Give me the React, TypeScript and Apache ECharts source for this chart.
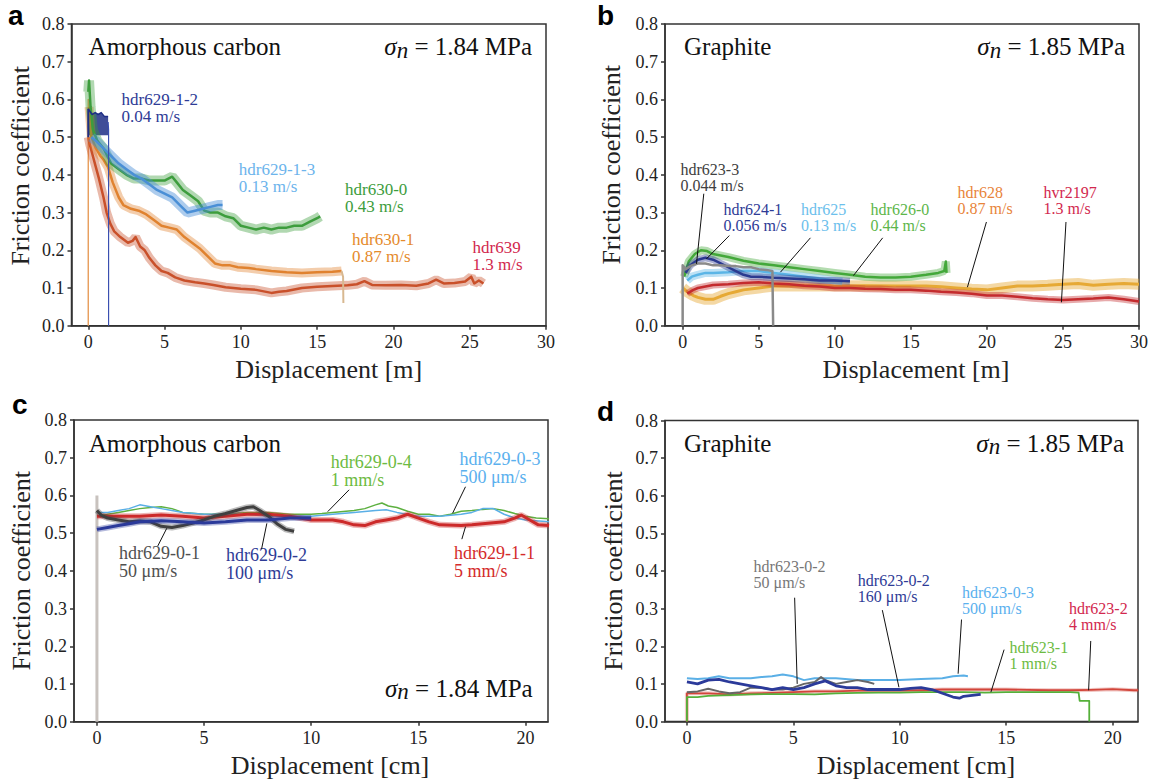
import React, { useEffect, useRef } from "react";
import * as echarts from "echarts";

const SERIF = '"Liberation Serif", "Times New Roman", serif';
const SANS = '"Liberation Sans", Arial, sans-serif';

// ---------- tick values ----------
const xTicksM = [0, 5, 10, 15, 20, 25, 30];
const xTicksCm = [0, 5, 10, 15, 20];

// ---------- panel a : amorphous carbon, 1.84 MPa ----------
// hdr629-1-2: upper edge of its noisy band; band floor at 0.505
const a_hdr629_1_2_top = [[0, 0.575], [0.08, 0.57], [0.25, 0.56], [0.45, 0.565], [0.65, 0.56], [0.85, 0.565], [1.05, 0.555], [1.3, 0.555]];
const a_hdr629_1_2_floor = 0.505;
const a_hdr629_1_2_start = [[0, 0.5], [0, 0.575]];
const a_hdr629_1_2_end = [[1.3, 0.54], [1.33, 0.52], [1.33, 0]];
const a_hdr629_1_3 = [[0.2, 0.5], [0.5, 0.49], [1.0, 0.47], [1.5, 0.45], [2.0, 0.43], [2.5, 0.415], [3.0, 0.4], [3.5, 0.39], [4.0, 0.375], [4.5, 0.36], [5.0, 0.35], [5.5, 0.34], [6.0, 0.32], [6.5, 0.3], [7.0, 0.305], [7.5, 0.31], [8.0, 0.315], [8.5, 0.32], [8.8, 0.32]];
const a_hdr630_0 = [[0, 0.62], [0.05, 0.65], [0.15, 0.58], [0.3, 0.52], [0.6, 0.49], [1.0, 0.47], [1.5, 0.43], [2.0, 0.415], [2.5, 0.4], [3.0, 0.39], [3.5, 0.39], [4.0, 0.385], [4.5, 0.385], [5.0, 0.385], [5.5, 0.395], [5.8, 0.38], [6.2, 0.36], [6.7, 0.345], [7.2, 0.33], [7.6, 0.305], [8.0, 0.3], [8.5, 0.3], [9.0, 0.29], [9.5, 0.285], [10.0, 0.265], [10.5, 0.26], [11.0, 0.255], [11.5, 0.26], [12.0, 0.255], [12.5, 0.26], [13.0, 0.26], [13.5, 0.265], [14.0, 0.265], [14.5, 0.275], [15.0, 0.285], [15.2, 0.29]];
const a_hdr630_1 = [[0.05, 0.58], [0.2, 0.5], [0.5, 0.47], [0.8, 0.45], [1.0, 0.44], [1.3, 0.42], [1.6, 0.38], [2.0, 0.34], [2.3, 0.32], [2.8, 0.31], [3.3, 0.305], [3.8, 0.295], [4.3, 0.28], [4.8, 0.265], [5.3, 0.26], [5.8, 0.255], [6.3, 0.235], [6.8, 0.22], [7.3, 0.205], [7.8, 0.185], [8.3, 0.165], [8.8, 0.16], [9.3, 0.16], [9.8, 0.155], [10.5, 0.153], [11.0, 0.15], [12.0, 0.145], [13.0, 0.142], [14.0, 0.14], [15.0, 0.142], [16.0, 0.143], [16.6, 0.145]];
const a_hdr630_1_edges = [[0, 0], [0, 0.6], [0.05, 0.58]];
const a_hdr630_1_end = [[16.6, 0.145], [16.7, 0.13], [16.72, 0.06]];
const a_hdr639 = [[0, 0.5], [0.1, 0.48], [0.3, 0.45], [0.5, 0.42], [0.7, 0.39], [1.0, 0.34], [1.2, 0.3], [1.45, 0.27], [1.7, 0.25], [2.1, 0.235], [2.6, 0.22], [2.9, 0.225], [3.1, 0.235], [3.4, 0.21], [3.7, 0.2], [4.0, 0.18], [4.4, 0.16], [4.8, 0.145], [5.2, 0.14], [5.7, 0.128], [6.3, 0.12], [7.0, 0.115], [7.6, 0.112], [8.2, 0.108], [9.0, 0.102], [10.0, 0.098], [11.0, 0.095], [12.0, 0.087], [12.5, 0.09], [13.0, 0.092], [14.0, 0.1], [15.0, 0.103], [16.0, 0.105], [17.0, 0.107], [17.6, 0.11], [18.1, 0.118], [18.6, 0.108], [19.5, 0.107], [20.5, 0.108], [21.5, 0.106], [22.3, 0.112], [22.8, 0.122], [23.3, 0.112], [24.0, 0.113], [24.7, 0.117], [25.1, 0.13], [25.3, 0.112], [25.6, 0.12], [25.9, 0.112]];

// ---------- panel b : graphite, 1.85 MPa ----------
const b_hdr623_3 = [[0, 0], [0, 0.16], [0.2, 0.15], [0.6, 0.16], [1.0, 0.165], [1.5, 0.165], [2.0, 0.16], [2.5, 0.16], [3.0, 0.158], [3.5, 0.158], [4.0, 0.155], [4.5, 0.155], [5.0, 0.15], [5.5, 0.148], [5.9, 0.145], [5.95, 0]];
const b_hdr624_1 = [[0.2, 0.14], [0.5, 0.16], [1.0, 0.175], [1.5, 0.18], [2.0, 0.175], [2.5, 0.165], [3.0, 0.155], [3.5, 0.145], [4.0, 0.135], [4.5, 0.13], [5.0, 0.13], [6.0, 0.127], [7.0, 0.125], [8.0, 0.123], [9.0, 0.12], [10.0, 0.12], [11.0, 0.118]];
const b_hdr625 = [[0.3, 0.12], [0.6, 0.13], [1.0, 0.135], [1.5, 0.14], [2.0, 0.14], [3.0, 0.142], [4.0, 0.145], [5.0, 0.145], [6.0, 0.14], [7.0, 0.135], [8.0, 0.13], [9.0, 0.125], [10.0, 0.12], [10.5, 0.118]];
const b_hdr626_0 = [[0.1, 0.13], [0.4, 0.17], [0.8, 0.19], [1.2, 0.2], [1.6, 0.198], [2.0, 0.19], [3.0, 0.182], [4.0, 0.172], [5.0, 0.165], [6.0, 0.16], [7.0, 0.155], [8.0, 0.15], [9.0, 0.145], [10.0, 0.14], [11.0, 0.135], [12.0, 0.13], [13.0, 0.128], [14.0, 0.128], [15.0, 0.13], [16.0, 0.135], [16.8, 0.14], [17.2, 0.145], [17.3, 0.17], [17.35, 0.14]];
const b_hdr628 = [[0, 0.1], [0.3, 0.09], [0.7, 0.08], [1.0, 0.075], [1.5, 0.07], [2.0, 0.07], [2.5, 0.078], [3.0, 0.085], [3.5, 0.09], [4.0, 0.095], [5.0, 0.1], [6.0, 0.105], [8.0, 0.106], [10.0, 0.105], [12.0, 0.106], [14.0, 0.105], [16.0, 0.105], [17.0, 0.103], [18.0, 0.1], [19.0, 0.097], [20.0, 0.095], [21.0, 0.1], [22.0, 0.105], [23.0, 0.105], [24.0, 0.107], [25.0, 0.11], [26.0, 0.112], [27.0, 0.107], [28.0, 0.11], [29.0, 0.112], [30.0, 0.11]];
const b_hvr2197 = [[0.3, 0.085], [0.7, 0.095], [1.0, 0.1], [2.0, 0.108], [3.0, 0.11], [4.0, 0.113], [5.0, 0.115], [6.0, 0.112], [7.0, 0.11], [8.0, 0.106], [9.0, 0.104], [10.0, 0.1], [11.0, 0.1], [12.0, 0.098], [13.0, 0.097], [14.0, 0.095], [15.0, 0.095], [16.0, 0.093], [17.0, 0.09], [18.0, 0.088], [19.0, 0.085], [20.0, 0.08], [21.0, 0.08], [22.0, 0.077], [23.0, 0.073], [24.0, 0.07], [25.0, 0.068], [26.0, 0.07], [27.0, 0.072], [28.0, 0.075], [29.0, 0.07], [30.0, 0.064]];

// ---------- panel c : amorphous carbon, low velocities ----------
const c_start = [[0, 0], [0, 0.6]];
const c_hdr629_0_4 = [[0, 0.545], [0.5, 0.55], [1, 0.555], [1.5, 0.56], [2, 0.565], [2.5, 0.568], [3, 0.57], [3.5, 0.565], [4, 0.555], [5, 0.55], [6, 0.55], [7, 0.555], [8, 0.555], [9, 0.55], [10, 0.55], [10.5, 0.552], [11, 0.555], [12, 0.56], [12.5, 0.565], [13, 0.575], [13.3, 0.58], [13.6, 0.572], [14, 0.568], [14.5, 0.558], [15, 0.55], [15.5, 0.55], [16, 0.545], [16.5, 0.55], [17, 0.558], [17.5, 0.56], [18, 0.563], [18.5, 0.565], [19, 0.56], [19.5, 0.552], [20, 0.545], [20.5, 0.54], [21.1, 0.538]];
const c_hdr629_0_3 = [[0, 0.555], [0.5, 0.555], [1, 0.56], [1.5, 0.565], [2, 0.575], [2.5, 0.57], [3, 0.565], [3.5, 0.56], [4, 0.555], [5, 0.55], [6, 0.55], [7, 0.55], [8, 0.545], [9, 0.545], [10, 0.545], [11, 0.55], [12, 0.555], [13, 0.56], [13.5, 0.562], [14, 0.555], [15, 0.545], [16, 0.545], [17, 0.55], [17.5, 0.555], [18, 0.565], [18.5, 0.565], [19, 0.55], [19.5, 0.54], [20, 0.535], [21.1, 0.53]];
const c_hdr629_1_1 = [[0, 0.545], [1, 0.545], [2, 0.545], [3, 0.548], [4, 0.545], [5, 0.54], [6, 0.545], [7, 0.55], [8, 0.55], [9, 0.545], [10, 0.535], [11, 0.535], [11.5, 0.53], [12, 0.522], [12.5, 0.52], [13, 0.53], [13.5, 0.535], [14, 0.54], [14.5, 0.55], [15, 0.54], [15.5, 0.53], [16, 0.522], [17, 0.52], [17.5, 0.522], [18, 0.525], [19, 0.53], [19.5, 0.54], [19.8, 0.548], [20.2, 0.535], [20.6, 0.522], [21.1, 0.52]];
const c_hdr629_0_1 = [[0, 0.56], [0.2, 0.548], [0.5, 0.54], [1, 0.535], [1.5, 0.53], [2, 0.532], [2.5, 0.53], [3, 0.518], [3.5, 0.515], [4, 0.52], [4.5, 0.527], [5, 0.535], [5.5, 0.545], [6, 0.552], [6.5, 0.56], [7, 0.568], [7.3, 0.57], [7.6, 0.56], [8, 0.545], [8.4, 0.525], [8.8, 0.51], [9.2, 0.505]];
const c_hdr629_0_2 = [[0, 0.51], [0.5, 0.515], [1, 0.52], [1.5, 0.525], [2, 0.53], [3, 0.533], [4, 0.53], [5, 0.527], [6, 0.53], [7, 0.535], [8, 0.535], [9, 0.54], [10, 0.54]];

// ---------- panel d : graphite, low velocities ----------
const d_hdr623_0_3 = [[0, 0.115], [0.5, 0.113], [1, 0.115], [1.5, 0.12], [2, 0.115], [3, 0.115], [3.5, 0.118], [4, 0.12], [4.5, 0.125], [5, 0.12], [5.5, 0.11], [6, 0.115], [7, 0.115], [8, 0.11], [9, 0.11], [10, 0.11], [11, 0.113], [12, 0.115], [12.5, 0.12], [13, 0.122], [13.2, 0.12]];
const d_hdr623_0_2_50 = [[0, 0.078], [0.5, 0.08], [1, 0.087], [1.5, 0.08], [2, 0.075], [2.5, 0.078], [3, 0.09], [3.5, 0.09], [4, 0.085], [4.5, 0.085], [5, 0.09], [5.5, 0.1], [6, 0.105], [6.3, 0.118], [6.5, 0.11], [7, 0.1], [7.5, 0.105], [8, 0.11], [8.5, 0.105], [8.8, 0.1]];
const d_hdr623_0_2_160 = [[0, 0.105], [0.5, 0.1], [1, 0.11], [1.5, 0.112], [2, 0.105], [2.5, 0.1], [3, 0.095], [3.5, 0.09], [4, 0.085], [4.5, 0.09], [5, 0.085], [5.5, 0.09], [6, 0.1], [6.5, 0.108], [7, 0.095], [7.5, 0.09], [8, 0.09], [8.5, 0.085], [9, 0.085], [9.5, 0.085], [10, 0.085], [10.5, 0.088], [11, 0.09], [11.5, 0.085], [12, 0.075], [12.5, 0.065], [12.8, 0.062], [13, 0.067], [13.5, 0.07], [13.8, 0.072]];
const d_hdr623_1 = [[0, 0], [0, 0.065], [0.5, 0.065], [1, 0.068], [2, 0.07], [3, 0.072], [4, 0.073], [5, 0.073], [6, 0.072], [7, 0.075], [8, 0.076], [9, 0.077], [10, 0.077], [11, 0.078], [12, 0.078], [13, 0.078], [14, 0.077], [15, 0.078], [16, 0.078], [17, 0.078], [18, 0.078], [18.4, 0.077], [18.45, 0.055], [18.9, 0.055], [18.9, 0]];
const d_hdr623_2 = [[0, 0], [0, 0.075], [1, 0.075], [2, 0.072], [3, 0.075], [4, 0.076], [5, 0.078], [6, 0.08], [7, 0.08], [8, 0.082], [9, 0.083], [10, 0.082], [11, 0.083], [12, 0.085], [13, 0.085], [14, 0.085], [15, 0.085], [16, 0.084], [17, 0.083], [18, 0.083], [19, 0.084], [20, 0.086], [21, 0.083], [21.2, 0.083]];

// ---------- leader lines (data coordinates) ----------
const leadersB = [
  [[1.39, 0.35], [0.91, 0.164]],
  [[3.07, 0.239], [1.56, 0.177]],
  [[8.4, 0.233], [6.43, 0.142]],
  [[13.15, 0.233], [11.23, 0.133]],
  [[19.97, 0.275], [18.72, 0.102]],
  [[25.2, 0.275], [24.9, 0.062]],
];
const leadersC = [
  [[2.84, 0.466], [3.26, 0.513]],
  [[7.68, 0.457], [7.93, 0.526]],
  [[11.77, 0.615], [10.77, 0.557]],
  [[17.2, 0.623], [16.6, 0.553]],
  [[17.2, 0.517], [17.03, 0.484]],
];
const leadersD = [
  [[5.06, 0.329], [5.18, 0.1]],
  [[9.18, 0.296], [9.96, 0.091]],
  [[12.9, 0.271], [12.74, 0.127]],
  [[14.9, 0.191], [14.28, 0.078]],
  [[18.97, 0.214], [18.87, 0.083]],
];

// ---------- curve labels ----------
const labelsA = [
  { text: "hdr629-1-2\n0.04 m/s", color: "#2E3B96" },
  { text: "hdr629-1-3\n0.13 m/s", color: "#6CB4EC" },
  { text: "hdr630-0\n0.43 m/s", color: "#3C9C3C" },
  { text: "hdr630-1\n0.87 m/s", color: "#E58A2C" },
  { text: "hdr639\n1.3 m/s", color: "#D2284E" },
];
const labelsB = [
  { text: "hdr623-3\n0.044 m/s", color: "#404040" },
  { text: "hdr624-1\n0.056 m/s", color: "#2E3B96" },
  { text: "hdr625\n0.13 m/s", color: "#6CC0EC" },
  { text: "hdr626-0\n0.44 m/s", color: "#5DB64A" },
  { text: "hdr628\n0.87 m/s", color: "#E8843A" },
  { text: "hvr2197\n1.3 m/s", color: "#D2284E" },
];
const labelsC = [
  { text: "hdr629-0-1\n50 μm/s", color: "#505050" },
  { text: "hdr629-0-2\n100 μm/s", color: "#2E3B96" },
  { text: "hdr629-0-4\n1 mm/s", color: "#6DBB42" },
  { text: "hdr629-0-3\n500 μm/s", color: "#5AB0EE" },
  { text: "hdr629-1-1\n5 mm/s", color: "#D42B2B" },
];
const labelsD = [
  { text: "hdr623-0-2\n50 μm/s", color: "#777777" },
  { text: "hdr623-0-2\n160 μm/s", color: "#2E3B96" },
  { text: "hdr623-0-3\n500 μm/s", color: "#5AB0EE" },
  { text: "hdr623-1\n1 mm/s", color: "#6DBB42" },
  { text: "hdr623-2\n4 mm/s", color: "#D2284E" },
];
// label placement (pixels): [left, top]
const posA = [[121.6, 90.6], [238.8, 160.3], [345, 180.3], [352, 230.3], [472.6, 238.6]];
const posB = [[680.5, 161], [723.6, 201], [801, 201], [870.6, 201], [957.6, 184.7], [1043.5, 184.7]];
const posC = [[119, 544.3], [226, 546], [330.7, 453.3], [459.4, 450], [454, 543.7]];
const posD = [[753.6, 558.7], [857.8, 572.7], [962, 584.3], [1009.5, 639.7], [1069, 600.3]];

type Curve = { p: number; data: number[][]; color: string; w: number; halo?: number; ho?: number; area?: number };

const curves: Curve[] = [
  // a
  { p: 0, data: a_hdr630_1_edges, color: "#E8A060", w: 1.5 },
  { p: 0, data: a_hdr639, color: "#C9502A", w: 2.5, halo: 9, ho: 0.4 },
  { p: 0, data: a_hdr630_1, color: "#E0822F", w: 2.5, halo: 9, ho: 0.4 },
  { p: 0, data: a_hdr630_1_end, color: "#D8B890", w: 2 },
  { p: 0, data: a_hdr630_0, color: "#3D9D3D", w: 2.5, halo: 10, ho: 0.4 },
  { p: 0, data: a_hdr629_1_3, color: "#4A8FD6", w: 2.5, halo: 10, ho: 0.45 },
  { p: 0, data: a_hdr629_1_2_top, color: "#1F2F86", w: 1.5, area: a_hdr629_1_2_floor },
  { p: 0, data: a_hdr629_1_2_start, color: "#1F2F86", w: 2 },
  { p: 0, data: a_hdr629_1_2_end, color: "#3A4FB0", w: 1.2 },
  // b
  { p: 1, data: b_hdr628, color: "#E6A935", w: 3, halo: 11, ho: 0.45 },
  { p: 1, data: b_hvr2197, color: "#C42B2E", w: 2.5, halo: 7, ho: 0.4 },
  { p: 1, data: b_hdr626_0, color: "#43A83A", w: 2.5, halo: 8, ho: 0.4 },
  { p: 1, data: b_hdr625, color: "#5BB5E6", w: 2.5, halo: 8, ho: 0.4 },
  { p: 1, data: b_hdr624_1, color: "#2B3A8F", w: 2.5, halo: 7, ho: 0.4 },
  { p: 1, data: b_hdr623_3, color: "#8A8A8A", w: 2.5 },
  // c
  { p: 2, data: c_start, color: "#C8C2BE", w: 3 },
  { p: 2, data: c_hdr629_0_4, color: "#5DB040", w: 1.5 },
  { p: 2, data: c_hdr629_0_3, color: "#5AAFE6", w: 1.5 },
  { p: 2, data: c_hdr629_1_1, color: "#CC2A2A", w: 3, halo: 6, ho: 0.35 },
  { p: 2, data: c_hdr629_0_1, color: "#404040", w: 3, halo: 6, ho: 0.35 },
  { p: 2, data: c_hdr629_0_2, color: "#2B3A9A", w: 3, halo: 6, ho: 0.35 },
  // d
  { p: 3, data: d_hdr623_2, color: "#D2453A", w: 1.8, halo: 4, ho: 0.3 },
  { p: 3, data: d_hdr623_1, color: "#55B03A", w: 1.8 },
  { p: 3, data: d_hdr623_0_3, color: "#5AAFE6", w: 2 },
  { p: 3, data: d_hdr623_0_2_50, color: "#666666", w: 2 },
  { p: 3, data: d_hdr623_0_2_160, color: "#2B3A9A", w: 2.8 },
];

const panels = [
  { grid: { left: 71.5, top: 24, width: 474.5, height: 301.7 }, xMin: -1.1, xMax: 30, ticks: xTicksM, xName: "Displacement [m]", xPad: 40, yGap: 38, yPad: 18 },
  { grid: { left: 665, top: 24, width: 474, height: 301.7 }, xMin: -1.16, xMax: 30, ticks: xTicksM, xName: "Displacement [m]", xPad: 28, yGap: 41, yPad: 20 },
  { grid: { left: 74, top: 420, width: 474, height: 301.7 }, xMin: -1.07, xMax: 21.05, ticks: xTicksCm, xName: "Displacement [cm]", xPad: 38, yGap: 40, yPad: 0 },
  { grid: { left: 665, top: 420.5, width: 473, height: 301 }, xMin: -1.03, xMax: 21.19, ticks: xTicksCm, xName: "Displacement [cm]", xPad: 29, yGap: 39, yPad: 0 },
];

export default function App() {
  const ref = useRef<HTMLDivElement>(null);
  useEffect(() => {
    if (!ref.current) return;
    const chart = echarts.init(ref.current, undefined, { renderer: "svg" });
    const axisColor = "#333";
    const grid = panels.map((p) => ({ ...p.grid, show: true, borderColor: axisColor, borderWidth: 1.5, backgroundColor: "transparent" }));
    const xAxis = panels.map((p, i) => ({
      gridIndex: i,
      type: "value",
      min: p.xMin,
      max: p.xMax,
      axisLine: { show: true, onZero: false, lineStyle: { color: axisColor, width: 1.5 } },
      axisTick: { show: true, length: 4, customValues: p.ticks, lineStyle: { color: axisColor, width: 1.5 } },
      axisLabel: { customValues: p.ticks, margin: 7, fontSize: 18, fontFamily: SERIF, color: "#222" },
      splitLine: { show: false },
      name: p.xName,
      nameLocation: "middle",
      nameGap: 31,
      nameTextStyle: { fontSize: 26, fontFamily: SERIF, color: "#222", padding: [0, 0, 0, p.xPad] },
    }));
    const yAxis = panels.map((p, i) => ({
      gridIndex: i,
      type: "value",
      min: 0,
      max: 0.8,
      interval: 0.1,
      axisLine: { show: true, onZero: false, lineStyle: { color: axisColor, width: 1.5 } },
      axisTick: { show: true, length: 4, lineStyle: { color: axisColor, width: 1.5 } },
      axisLabel: { margin: 7, fontSize: 18, fontFamily: SERIF, color: "#222", formatter: (v: number) => v.toFixed(1) },
      splitLine: { show: false },
      name: "Friction coefficient",
      nameLocation: "middle",
      nameGap: p.yGap,
      nameTextStyle: { fontSize: 26, fontFamily: SERIF, color: "#222", padding: [0, 0, 0, p.yPad] },
    }));

    const series: any[] = [];
    curves.forEach((c) => {
      if (c.halo) {
        series.push({
          type: "line", xAxisIndex: c.p, yAxisIndex: c.p, data: c.data, symbol: "none", silent: true,
          lineStyle: { color: c.color, width: c.halo, opacity: c.ho, join: "bevel", cap: "butt" },
        });
      }
      const s: any = {
        type: "line", xAxisIndex: c.p, yAxisIndex: c.p, data: c.data, symbol: "none", silent: true,
        lineStyle: { color: c.color, width: c.w, join: "round" },
      };
      if (c.area !== undefined) s.areaStyle = { color: c.color, opacity: 0.85, origin: c.area };
      series.push(s);
    });
    const addLeaders = (list: number[][][], p: number) =>
      list.forEach((seg) =>
        series.push({
          type: "line", xAxisIndex: p, yAxisIndex: p, data: seg, symbol: "none", silent: true, z: 5,
          lineStyle: { color: "#111", width: 1 },
        })
      );
    addLeaders(leadersB, 1);
    addLeaders(leadersC, 2);
    addLeaders(leadersD, 3);

    const graphic: any[] = [];
    const letter = (t: string, x: number, y: number) =>
      graphic.push({ type: "text", x, y, silent: true, style: { text: t, fill: "#000", fontSize: 28, fontWeight: "bold", fontFamily: SANS, verticalAlign: "middle" } });
    letter("a", 8, 15);
    letter("b", 597, 15);
    letter("c", 12, 404);
    letter("d", 597, 411);
    const title = (t: string, x: number, y: number) =>
      graphic.push({ type: "text", x, y, silent: true, style: { text: t, fill: "#111", fontSize: 25, fontFamily: SERIF, verticalAlign: "middle" } });
    title("Amorphous carbon", 88.6, 46.5);
    title("Graphite", 684, 46.5);
    title("Amorphous carbon", 88.7, 443);
    title("Graphite", 684, 443);
    const sigma = (v: string, x: number, y: number) =>
      graphic.push({
        type: "text", x, y, silent: true,
        style: {
          text: "{i|σ}{s|n}{r| = " + v + " MPa}", align: "right", verticalAlign: "middle",
          rich: {
            i: { fontSize: 25, fontFamily: SERIF, fontStyle: "italic", fill: "#111", lineHeight: 28 },
            s: { fontSize: 23, fontFamily: SERIF, fontStyle: "italic", fill: "#111", lineHeight: 28, padding: [7, 0, 0, 0] },
            r: { fontSize: 25, fontFamily: SERIF, fill: "#111", lineHeight: 28 },
          },
        },
      });
    sigma("1.84", 532, 46.5);
    sigma("1.85", 1125, 46.5);
    sigma("1.84", 532.7, 688);
    sigma("1.85", 1124, 443);
    const addLabels = (ls: { text: string; color: string }[], pos: number[][], fs: number, lh: number) =>
      ls.forEach((l, i) =>
        graphic.push({
          type: "text", x: pos[i][0], y: pos[i][1], silent: true,
          style: { text: l.text, fill: l.color, fontSize: fs, fontFamily: SERIF, lineHeight: lh, verticalAlign: "top", align: "left" },
        })
      );
    addLabels(labelsA, posA, 17, 17.6);
    addLabels(labelsB, posB, 16, 16);
    addLabels(labelsC, posC, 18, 18);
    addLabels(labelsD, posD, 16, 16);

    chart.setOption({ animation: false, backgroundColor: "#fff", grid, xAxis, yAxis, series, graphic });
    return () => chart.dispose();
  }, []);
  return <div ref={ref} style={{ position: "fixed", left: 0, top: 0, width: 1153, height: 780 }} />;
}
